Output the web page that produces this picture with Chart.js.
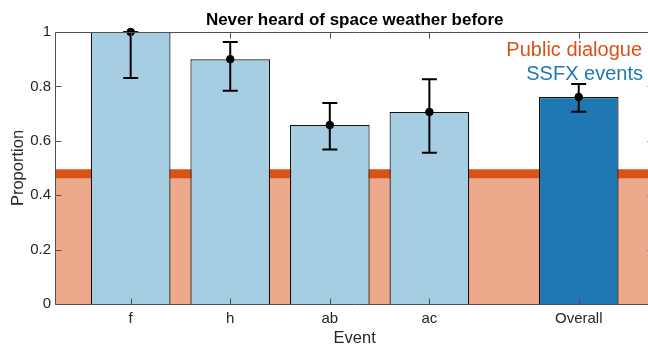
<!DOCTYPE html>
<html>
<head>
<meta charset="utf-8">
<script src="https://cdn.jsdelivr.net/npm/chart.js@4/dist/chart.umd.min.js"></script>
<style>
  html, body { margin: 0; padding: 0; background: #fff; overflow: hidden; width: 648px; height: 347px; }
  canvas { display: block; }
</style>
</head>
<body>
<canvas id="c" width="660" height="347"></canvas>
<script>
// ---- data ----
const categories   = ['f', 'h', 'ab', 'ac', 'Overall'];
const eventX       = [1, 2, 3, 4, 5.5];
const proportions  = [1.0, 0.90, 0.658, 0.706, 0.761];
const ciLower      = [0.831, 0.784, 0.568, 0.556, 0.707];
const ciUpper      = [1.0, 0.963, 0.739, 0.826, 0.809];
const publicDialogueLevel = 0.479;
const xLimits      = [0.25, 6.25];
const yTickValues  = [0, 0.2, 0.4, 0.6, 0.8, 1];
const yTickLabels  = ['0', '0.2', '0.4', '0.6', '0.8', '1'];
const legendLabels = ['Public dialogue', 'SSFX events'];

// ---- styles ----
const FONT = '"Liberation Sans", Arial, Helvetica, sans-serif';
const AXIS = '#505050';
const TXT = '#262626';
const ORANGE = '#D95319';
const LIGHTBLUE = '#A6CEE3';
const DARKBLUE = '#1F78B4';
const barColors = categories.map((c, i) => i === categories.length - 1 ? DARKBLUE : LIGHTBLUE);

const boxPlugin = {
  id: 'box',
  afterDraw(chart) {
    const {ctx, chartArea: a, scales: {x, y}} = chart;
    ctx.save();
    ctx.strokeStyle = AXIS;
    ctx.lineWidth = 1;
    const L = Math.floor(a.left) - 0.5, R = Math.round(a.right) + 0.5;
    const T = Math.round(a.top) + 0.5, B = Math.round(a.bottom) + 0.5;
    ctx.beginPath();
    ctx.moveTo(L, B); ctx.lineTo(R, B);
    ctx.moveTo(L, T); ctx.lineTo(R, T);
    ctx.moveTo(L, T); ctx.lineTo(L, B);
    ctx.moveTo(R, T); ctx.lineTo(R, B);
    const tl = 6;
    yTickValues.forEach(v => {
      const py = Math.round(y.getPixelForValue(v)) + 0.5;
      ctx.moveTo(L, py); ctx.lineTo(L + tl, py);
      ctx.moveTo(R, py); ctx.lineTo(R - tl, py);
    });
    eventX.forEach(v => {
      const px = Math.round(x.getPixelForValue(v)) + 0.5;
      ctx.moveTo(px, B); ctx.lineTo(px, B - tl);
      ctx.moveTo(px, T); ctx.lineTo(px, T + tl);
    });
    ctx.stroke();

    // legend text
    ctx.font = '20px ' + FONT;
    ctx.textAlign = 'right';
    ctx.textBaseline = 'alphabetic';
    ctx.fillStyle = ORANGE;
    ctx.fillText(legendLabels[0], 642, 56);
    ctx.fillStyle = DARKBLUE;
    ctx.fillText(legendLabels[1], 643, 80);
    ctx.restore();
  }
};

const errorBarPlugin = {
  id: 'errbars',
  afterDatasetsDraw(chart) {
    const {ctx, scales: {x, y}} = chart;
    ctx.save();
    ctx.strokeStyle = '#000';
    ctx.lineWidth = 2;
    ctx.beginPath();
    eventX.forEach((xv, i) => {
      const px = x.getPixelForValue(xv);
      const lo = y.getPixelForValue(ciLower[i]);
      const hi = y.getPixelForValue(ciUpper[i]);
      ctx.moveTo(px, lo); ctx.lineTo(px, hi);
      ctx.moveTo(px - 7.5, lo); ctx.lineTo(px + 7.5, lo);
      ctx.moveTo(px - 7.5, hi); ctx.lineTo(px + 7.5, hi);
    });
    ctx.stroke();
    ctx.restore();
  }
};

new Chart(document.getElementById('c'), {
  type: 'bar',
  data: {
    datasets: [
      {
        type: 'line',
        label: legendLabels[0],
        data: xLimits.map(v => ({x: v, y: publicDialogueLevel})),
        borderColor: ORANGE,
        borderWidth: 9,
        backgroundColor: 'rgba(217,83,25,0.5)',
        fill: 'origin',
        pointRadius: 0,
        order: 3
      },
      {
        type: 'bar',
        label: legendLabels[1],
        data: eventX.map((v, i) => ({x: v, y: proportions[i]})),
        backgroundColor: barColors,
        borderColor: '#111',
        borderWidth: 1.2,
        barPercentage: 0.8,
        categoryPercentage: 1.0,
        order: 2
      },
      {
        type: 'line',
        label: 'points',
        data: eventX.map((v, i) => ({x: v, y: proportions[i]})),
        showLine: false,
        pointRadius: 3.8,
        pointBackgroundColor: '#000',
        pointBorderColor: '#000',
        clip: false,
        order: 1
      }
    ]
  },
  options: {
    responsive: false,
    animation: false,
    devicePixelRatio: 1,
    layout: { padding: { left: 0, right: 6.6, top: 0, bottom: 0 } },
    plugins: {
      legend: { display: false },
      tooltip: { enabled: false },
      title: {
        display: true,
        fullSize: false,
        text: 'Never heard of space weather before',
        color: '#000',
        font: { family: FONT, size: 17, weight: 'bold', lineHeight: 1.2 },
        padding: { top: 10, bottom: 1.6 }
      }
    },
    scales: {
      x: {
        type: 'linear',
        min: xLimits[0],
        max: xLimits[1],
        offset: false,
        afterBuildTicks(s) { s.ticks = eventX.map(v => ({value: v})); },
        afterFit(s) { s.height = 43; },
        ticks: {
          autoSkip: false,
          maxRotation: 0,
          padding: 6,
          color: TXT,
          font: { family: FONT, size: 15 },
          callback(v) { const i = eventX.indexOf(v); return i >= 0 ? categories[i] : ''; }
        },
        grid: { display: false, drawTicks: false },
        border: { display: false },
        title: {
          display: true, text: 'Event', color: TXT,
          font: { family: FONT, size: 16.5, lineHeight: 1 },
          padding: { top: 0, bottom: 0 }
        }
      },
      y: {
        type: 'linear',
        min: 0,
        max: 1,
        afterBuildTicks(s) { s.ticks = yTickValues.map(v => ({value: v})); },
        afterFit(s) { s.width = 56; },
        ticks: {
          padding: 5,
          color: TXT,
          font: { family: FONT, size: 15 },
          callback(v) { const i = yTickValues.indexOf(v); return i >= 0 ? yTickLabels[i] : ''; }
        },
        grid: { display: false, drawTicks: false },
        border: { display: false },
        title: {
          display: true, text: 'Proportion', color: TXT,
          font: { family: FONT, size: 16.5, lineHeight: 1 },
          padding: { top: 10, bottom: 0 }
        }
      }
    }
  },
  plugins: [errorBarPlugin, boxPlugin]
});
</script>
</body>
</html>
